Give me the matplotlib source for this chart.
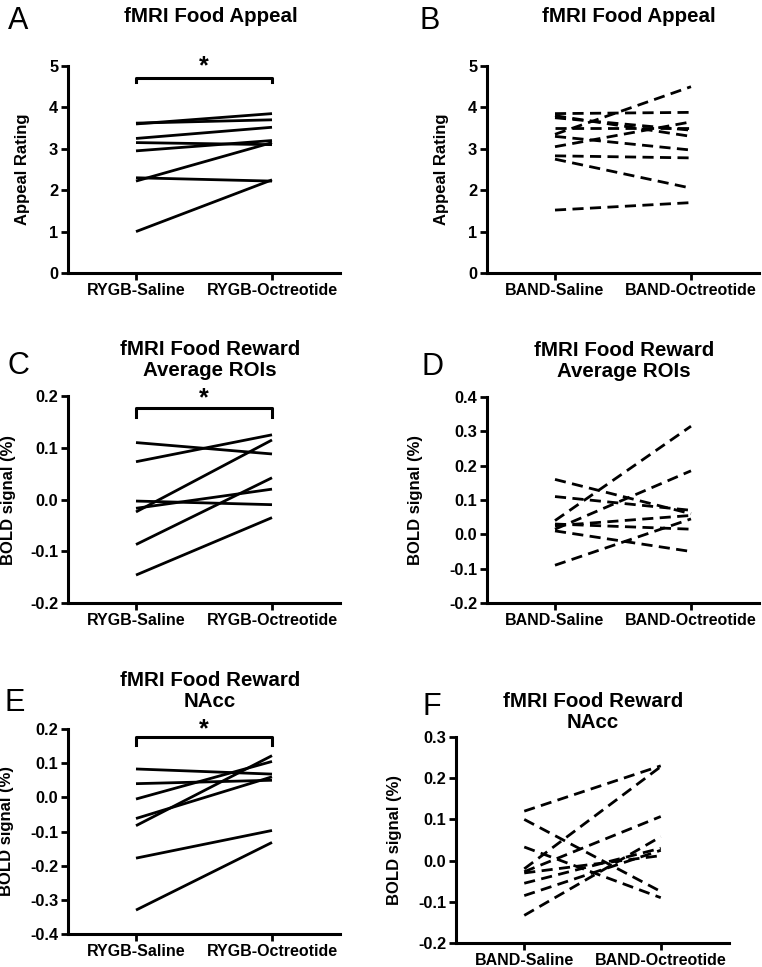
import numpy as np
import matplotlib
matplotlib.use("Agg")
import matplotlib.pyplot as plt

plt.rcParams['font.family'] = ['Liberation Sans', 'DejaVu Sans']

# ---- data (saline -> octreotide) ----
rygb_groups = ['RYGB-Saline', 'RYGB-Octreotide']
band_groups = ['BAND-Saline', 'BAND-Octreotide']

appeal_rygb_sal = [3.60, 3.62, 3.25, 3.15, 2.95, 2.22, 2.30, 1.00]
appeal_rygb_oct = [3.85, 3.70, 3.52, 3.10, 3.20, 3.15, 2.22, 2.25]

appeal_band_sal = [3.85, 3.80, 3.75, 3.50, 3.35, 3.30, 3.05, 2.83, 2.75, 1.52]
appeal_band_oct = [3.88, 3.30, 3.45, 3.50, 4.50, 2.97, 3.65, 2.78, 2.05, 1.70]

roi_rygb_sal = [0.110, 0.073, -0.003, -0.017, -0.024, -0.087, -0.146]
roi_rygb_oct = [0.088, 0.125, -0.010, 0.020, 0.115, 0.042, -0.035]

roi_band_sal = [0.160, 0.110, 0.040, 0.015, 0.025, 0.030, 0.010, -0.090]
roi_band_oct = [0.060, 0.070, 0.315, 0.185, 0.055, 0.015, -0.050, 0.045]

nacc_rygb_sal = [0.083, 0.040, -0.005, -0.062, -0.083, -0.178, -0.330]
nacc_rygb_oct = [0.068, 0.050, 0.105, 0.060, 0.122, -0.097, -0.132]

nacc_band_sal = [0.120, 0.100, 0.033, -0.020, -0.027, -0.055, -0.085, -0.133, -0.030]
nacc_band_oct = [0.230, -0.075, -0.090, 0.228, 0.107, 0.030, 0.025, 0.058, 0.012]

W, H = 762, 967
fig = plt.figure(figsize=(W / 100, H / 100), dpi=100)


def px_axes(left, right, top, bottom):
    return fig.add_axes([left / W, 1 - bottom / H, (right - left) / W, (bottom - top) / H])


def panel(ax, sal, octr, groups, ylim, step, fmt, ylabel, dashed, lab_x):
    ls = (0, (4, 2.3)) if dashed else '-'
    for a, b in zip(sal, octr):
        ax.plot([0, 1], [a, b], color='black', lw=2.0, ls=ls, solid_capstyle='butt',
                clip_on=False)
    ax.set_xlim(-0.5, 1.5)
    ax.set_ylim(*ylim)
    ticks = np.arange(ylim[0], ylim[1] + step / 2, step)
    ax.set_yticks(ticks)
    ax.set_yticklabels([fmt.format(round(t, 3) + 0.0) for t in ticks], fontweight='bold',
                       fontsize=11.8)
    ax.set_xticks([0, 1])
    ax.set_xticklabels(groups, fontweight='bold', fontsize=11.5)
    for s in ['top', 'right']:
        ax.spines[s].set_visible(False)
    for s in ['left', 'bottom']:
        ax.spines[s].set_linewidth(2.2)
    ax.tick_params(width=2, length=5, pad=2)
    ax.set_ylabel(ylabel, fontweight='bold', fontsize=12)
    ax.yaxis.set_label_coords(lab_x, 0.5)
    ax.patch.set_alpha(0)


def bracket(ax, y, tick, star_y):
    ax.plot([0, 0, 1, 1], [y - tick, y, y, y - tick], color='black', lw=2.2, clip_on=False)
    ax.text(0.5, star_y, '*', ha='center', va='center', fontsize=18, fontweight='bold')


axA = px_axes(68, 340, 66, 273)
panel(axA, appeal_rygb_sal, appeal_rygb_oct, rygb_groups, (0, 5), 1, '{:.0f}',
      'Appeal Rating', False, -0.14)
bracket(axA, 4.71, 0.1, 5.0)

axB = px_axes(487, 759, 66, 273)
panel(axB, appeal_band_sal, appeal_band_oct, band_groups, (0, 5), 1, '{:.0f}',
      'Appeal Rating', True, -0.14)

axC = px_axes(68, 340, 396, 603)
panel(axC, roi_rygb_sal, roi_rygb_oct, rygb_groups, (-0.2, 0.2), 0.1, '{:.1f}',
      'BOLD signal (%)', False, -0.19)
bracket(axC, 0.177, 0.018, 0.195)

axD = px_axes(487, 759, 397, 603)
panel(axD, roi_band_sal, roi_band_oct, band_groups, (-0.2, 0.4), 0.1, '{:.1f}',
      'BOLD signal (%)', True, -0.235)

axE = px_axes(68, 340, 729, 934)
panel(axE, nacc_rygb_sal, nacc_rygb_oct, rygb_groups, (-0.4, 0.2), 0.1, '{:.1f}',
      'BOLD signal (%)', False, -0.2)
bracket(axE, 0.177, 0.025, 0.2)

axF = px_axes(456, 729, 737, 943)
panel(axF, nacc_band_sal, nacc_band_oct, band_groups, (-0.2, 0.3), 0.1, '{:.1f}',
      'BOLD signal (%)', True, -0.198)

# titles
titles = [(211, 17, 'fMRI Food Appeal'), (629, 17, 'fMRI Food Appeal'),
          (210, 360, 'fMRI Food Reward\nAverage ROIs'), (624, 361, 'fMRI Food Reward\nAverage ROIs'),
          (210, 691, 'fMRI Food Reward\nNAcc'), (593, 712, 'fMRI Food Reward\nNAcc')]
for x, y, t in titles:
    fig.text(x / W, 1 - y / H, t, ha='center', va='center', fontsize=14.8, fontweight='bold',
             linespacing=1.15)

# panel letters
letters = [(18, 21, 'A'), (430, 21, 'B'), (18, 366, 'C'), (432, 367, 'D'),
           (15, 703, 'E'), (432, 707, 'F')]
for x, y, t in letters:
    fig.text(x / W, 1 - y / H, t, ha='center', va='center', fontsize=22)

fig.savefig('out.png', dpi=100)
